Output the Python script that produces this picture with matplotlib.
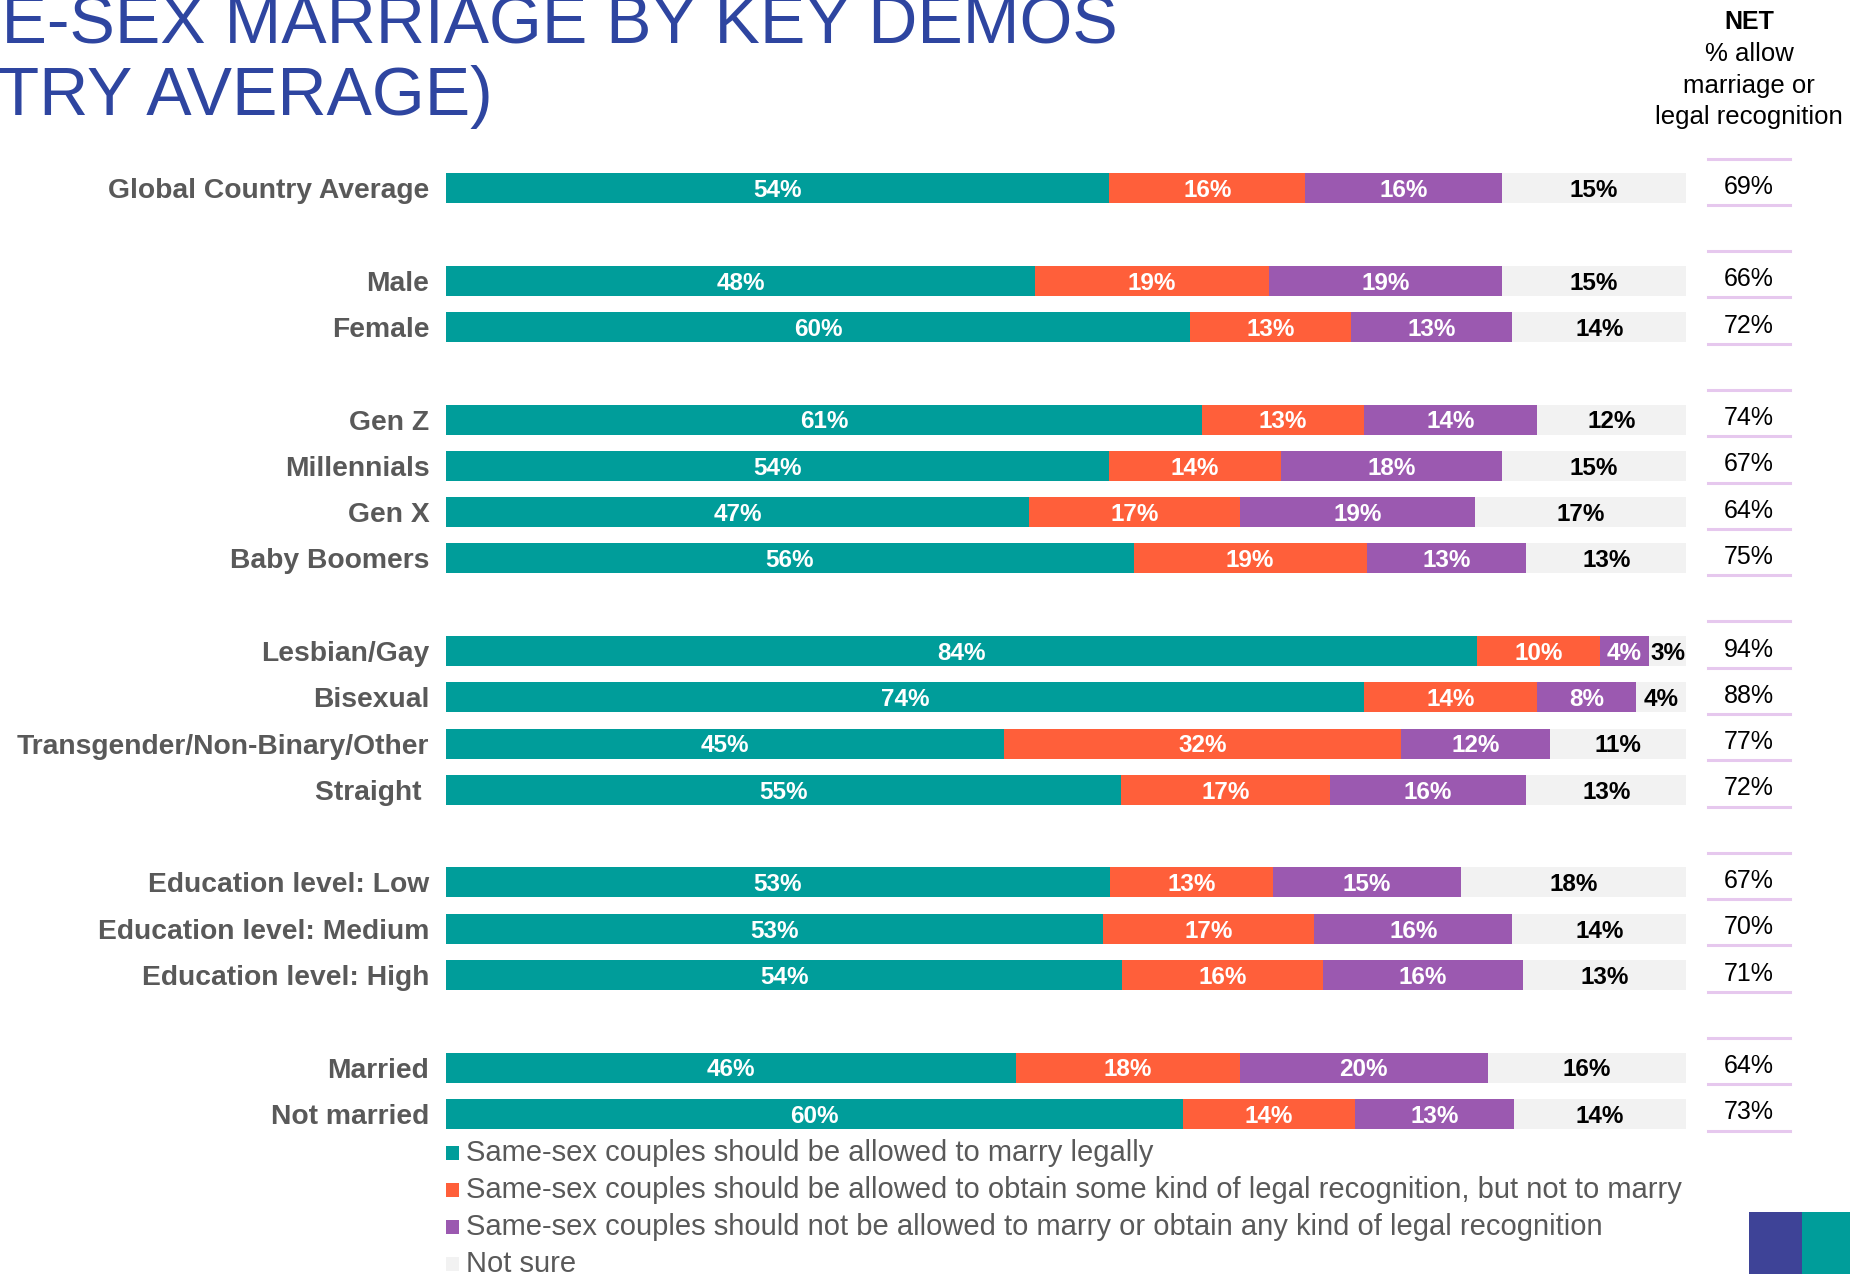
import numpy as np
import matplotlib.pyplot as plt
from matplotlib.lines import Line2D
from matplotlib.patches import Rectangle
from matplotlib.transforms import blended_transform_factory

plt.rcParams['font.family'] = ['Liberation Sans', 'DejaVu Sans']

# --- data ---
groups = [
    ["Global Country Average"],
    ["Male", "Female"],
    ["Gen Z", "Millennials", "Gen X", "Baby Boomers"],
    ["Lesbian/Gay", "Bisexual", "Transgender/Non-Binary/Other", "Straight "],
    ["Education level: Low", "Education level: Medium", "Education level: High"],
    ["Married", "Not married"],
]
marry    = [54, 48, 60, 61, 54, 47, 56, 84, 74, 45, 55, 53, 53, 54, 46, 60]
recog    = [16, 19, 13, 13, 14, 17, 19, 10, 14, 32, 17, 13, 17, 16, 18, 14]
no_recog = [16, 19, 13, 14, 18, 19, 13,  4,  8, 12, 16, 15, 16, 16, 20, 13]
not_sure = [15, 15, 14, 12, 15, 17, 13,  3,  4, 11, 13, 18, 14, 13, 16, 14]
net      = [69, 66, 72, 74, 67, 64, 75, 94, 88, 77, 72, 67, 70, 71, 64, 73]

series_names = [
    "Same-sex couples should be allowed to marry legally",
    "Same-sex couples should be allowed to obtain some kind of legal recognition, but not to marry",
    "Same-sex couples should not be allowed to marry or obtain any kind of legal recognition",
    "Not sure",
]
colors = ["#009D9A", "#FF5F3A", "#9B59B0", "#F2F2F2"]
text_colors = ["white", "white", "white", "black"]

W, H = 1875, 1274
def fx(px): return px / W
def fy(py): return 1 - py / H

# slot positions: one blank row between groups
labels, ypos, group_rows = [], [], []
slot = 0
for g in groups:
    rows = []
    for name in g:
        labels.append(name)
        ypos.append(slot)
        rows.append(slot)
        slot += 1
    group_rows.append(rows)
    slot += 1
ypos = np.array(ypos)

vals = np.array([marry, recog, no_recog, not_sure], dtype=float)
shares = vals / vals.sum(axis=0) * 100  # labels are rounded, bars fill to 100

fig = plt.figure(figsize=(18.75, 12.74), dpi=100)
ax = fig.add_axes([fx(446), fy(1137), fx(1686) - fx(446), fy(165) - fy(1137)])

left = np.zeros(len(labels))
for i in range(4):
    ax.barh(ypos, shares[i], left=left, height=0.65, color=colors[i], edgecolor='none')
    for y, l, w, v in zip(ypos, left, shares[i], vals[i]):
        ax.text(l + w / 2, y + 0.05, f"{int(v)}%", ha='center', va='center',
                fontsize=17.5, fontweight='bold', color=text_colors[i])
    left += shares[i]

ax.set_xlim(0, 100)
ax.set_ylim(slot - 1 - 0.5, -0.5)
ax.set_yticks(ypos)
ax.set_yticklabels(labels, fontsize=20.3, fontweight='bold', color='#595959')
ax.tick_params(axis='y', length=0, pad=12)
ax.set_xticks([])
for s in ax.spines.values():
    s.set_visible(False)

# --- NET column ---
tr = blended_transform_factory(fig.transFigure, ax.transData)
net_x = fx(1749)
for y, n in zip(ypos, net):
    ax.text(net_x, y - 0.03, f"{n}%", transform=tr, ha='center', va='center',
            fontsize=18, color='black')
for rows in group_rows:
    for y in [rows[0] - 0.64] + [r + 0.36 for r in rows]:
        fig.add_artist(Line2D([fx(1708), fx(1790)], [y, y], transform=tr,
                              color='#E6C8EE', linewidth=2.2))

fig.text(net_x, fy(22), "NET", ha='center', va='center', fontsize=18, fontweight='bold')
for py, t in zip([54, 86, 117], ["% allow", "marriage or", "legal recognition"]):
    fig.text(net_x, fy(py), t, ha='center', va='center', fontsize=18.5)

# --- title (cropped at left edge as in the slide) ---
title_color = "#2E45A0"
fig.text(fx(1118), fy(44), "SAME-SEX MARRIAGE BY KEY DEMOS", ha='right', va='baseline',
         fontsize=49, color=title_color)
fig.text(fx(493), fy(115), "(GLOBAL COUNTRY AVERAGE)", ha='right', va='baseline',
         fontsize=49, color=title_color)

# --- legend ---
for i, (name, c) in enumerate(zip(series_names, colors)):
    cy = 1153 + i * 37
    fig.add_artist(Rectangle((fx(446), fy(cy + 7)), fx(13), 14 / H, transform=fig.transFigure,
                             facecolor=c, edgecolor='none'))
    fig.text(fx(466), fy(cy), name, ha='left', va='center', fontsize=21, color='#595959')

# --- logo fragment, bottom right ---
fig.add_artist(Rectangle((fx(1749), 0), fx(53), 62 / H, transform=fig.transFigure,
                         facecolor="#3E4397", edgecolor='none'))
fig.add_artist(Rectangle((fx(1802), 0), fx(48), 62 / H, transform=fig.transFigure,
                         facecolor="#009D9A", edgecolor='none'))

fig.savefig("out.png", dpi=100)
